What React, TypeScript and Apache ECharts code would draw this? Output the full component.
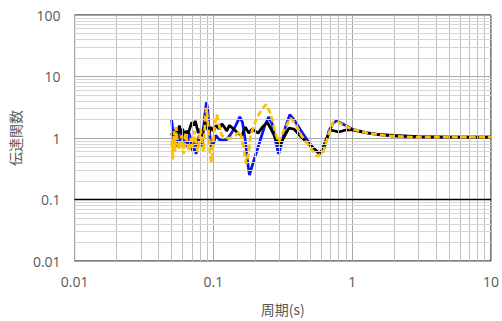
import React, { useEffect, useRef } from "react";
import * as echarts from "echarts";

// Period (s) and transfer function values
const blackSeries: [number, number][] = [
  [0.05, 1.2], [0.051, 1.0], [0.052, 1.3], [0.053, 1.1], [0.054, 1.5], [0.055, 1.0],
  [0.056, 1.3], [0.057, 1.6], [0.058, 1.2], [0.06, 1.4], [0.062, 1.1], [0.064, 1.3],
  [0.066, 1.2], [0.068, 1.5], [0.07, 1.8], [0.072, 1.6], [0.074, 1.9], [0.076, 1.5],
  [0.078, 1.2], [0.08, 1.4], [0.082, 1.1], [0.084, 1.3], [0.086, 1.6], [0.088, 1.9],
  [0.09, 1.5], [0.093, 1.2], [0.096, 1.5], [0.1, 1.3], [0.105, 1.6], [0.11, 1.4],
  [0.115, 1.7], [0.12, 1.5], [0.125, 1.3], [0.13, 1.6], [0.14, 1.4], [0.15, 1.2],
  [0.16, 1.1], [0.17, 1.5], [0.18, 1.2], [0.19, 1.4], [0.2, 1.3], [0.21, 1.2],
  [0.225, 1.5], [0.245, 1.8], [0.26, 1.4], [0.28, 1.0], [0.3, 0.75], [0.32, 1.0],
  [0.35, 1.45], [0.38, 1.4], [0.42, 1.1], [0.47, 0.85], [0.52, 0.7], [0.57, 0.58],
  [0.6, 0.6], [0.65, 0.95], [0.7, 1.35], [0.75, 1.3], [0.8, 1.25], [0.9, 1.35],
  [1.0, 1.35], [1.2, 1.25], [1.5, 1.15], [2.0, 1.1], [3.0, 1.05], [5.0, 1.03], [10, 1.03],
];

const blueSeries: [number, number][] = [
  [0.05, 2.0], [0.051, 1.3], [0.052, 0.8], [0.053, 1.0], [0.054, 0.7], [0.055, 1.1],
  [0.057, 0.9], [0.059, 1.3], [0.061, 0.8], [0.063, 1.0], [0.065, 0.7], [0.067, 1.2],
  [0.069, 0.9], [0.071, 0.6], [0.073, 0.9], [0.075, 0.55], [0.077, 0.8], [0.079, 1.1],
  [0.081, 0.9], [0.083, 0.7], [0.085, 1.5], [0.087, 2.5], [0.089, 3.8], [0.091, 3.0],
  [0.093, 1.5], [0.095, 0.9], [0.097, 0.65], [0.1, 0.8], [0.104, 1.1], [0.11, 0.95],
  [0.118, 0.9], [0.125, 0.95], [0.135, 1.2], [0.145, 1.6], [0.155, 2.2], [0.162, 1.8],
  [0.17, 0.9], [0.178, 0.35], [0.182, 0.25], [0.19, 0.35], [0.205, 0.6], [0.22, 1.0],
  [0.235, 1.6], [0.25, 2.2], [0.265, 1.7], [0.28, 0.9], [0.295, 0.55], [0.31, 0.8],
  [0.33, 1.5], [0.355, 2.4], [0.38, 2.0], [0.42, 1.4], [0.47, 0.95], [0.52, 0.7],
  [0.58, 0.55], [0.63, 0.7], [0.68, 1.3], [0.73, 1.75], [0.77, 1.9], [0.85, 1.7],
  [1.0, 1.4], [1.3, 1.2], [1.7, 1.1], [2.3, 1.05], [3.0, 1.03], [10, 1.03],
];

const orangeSeries: [number, number][] = [
  [0.05, 0.9], [0.051, 0.45], [0.052, 1.3], [0.053, 0.6], [0.054, 1.5], [0.055, 0.9],
  [0.057, 0.65], [0.059, 1.1], [0.061, 0.55], [0.063, 1.2], [0.065, 0.8], [0.067, 0.6],
  [0.069, 1.0], [0.071, 0.7], [0.073, 1.3], [0.075, 0.8], [0.077, 0.6], [0.079, 0.9],
  [0.081, 1.4], [0.083, 0.8], [0.085, 0.6], [0.087, 1.8], [0.089, 3.1], [0.091, 2.0],
  [0.093, 1.0], [0.095, 0.5], [0.097, 0.4], [0.099, 0.7], [0.102, 1.6], [0.106, 2.4],
  [0.11, 1.6], [0.115, 1.1], [0.125, 1.0], [0.135, 1.0], [0.145, 1.1], [0.155, 1.3],
  [0.165, 0.7], [0.172, 0.38], [0.18, 0.6], [0.185, 1.1], [0.205, 2.1], [0.225, 3.0],
  [0.24, 3.5], [0.26, 2.4], [0.28, 1.2], [0.295, 0.85], [0.32, 1.3], [0.36, 2.1],
  [0.39, 1.7], [0.43, 1.1], [0.5, 0.7], [0.56, 0.5], [0.62, 0.6], [0.68, 1.2],
  [0.73, 1.8], [0.78, 1.85], [0.87, 1.6], [1.0, 1.4], [1.3, 1.2], [1.7, 1.1],
  [2.3, 1.05], [3.0, 1.03], [10, 1.03],
];

const xMinorGrid = [
  0.02, 0.03, 0.04, 0.05, 0.06, 0.07, 0.08, 0.09,
  0.2, 0.3, 0.4, 0.5, 0.6, 0.7, 0.8, 0.9,
  2, 3, 4, 5, 6, 7, 8, 9,
];
const yMinorGrid = [
  0.02, 0.03, 0.04, 0.05, 0.06, 0.07, 0.08, 0.09,
  0.2, 0.3, 0.4, 0.5, 0.6, 0.7, 0.8, 0.9,
  2, 3, 4, 5, 6, 7, 8, 9,
  20, 30, 40, 50, 60, 70, 80, 90,
];
const xAxisLineValue = 0.1;

const fmt = (v: number) => String(Number(v.toPrecision(2)));

export default function App() {
  const ref = useRef<HTMLDivElement>(null);
  useEffect(() => {
    if (!ref.current) return;
    const chart = echarts.init(ref.current, undefined, { renderer: "svg" });
    const font = "'Noto Sans CJK JP', 'Noto Sans', sans-serif";
    const labelFont = "'Open Sans', 'Noto Sans', sans-serif";
    chart.setOption({
      animation: false,
      grid: {
        left: 64, right: 11, top: 15, bottom: 58,
        show: true, borderColor: "#000", borderWidth: 1,
      },
      xAxis: {
        type: "log", logBase: 10, min: 0.01, max: 10,
        name: "周期(s)", nameLocation: "middle", nameGap: 41,
        nameTextStyle: { color: "#595959", fontSize: 14, fontFamily: font },
        axisLine: { show: false },
        axisTick: { show: false },
        axisLabel: { color: "#595959", fontSize: 14, fontFamily: labelFont, margin: 13, formatter: fmt },
        splitLine: { show: true, lineStyle: { color: "#a6a6a6", width: 1 } },
      },
      yAxis: {
        type: "log", logBase: 10, min: 0.01, max: 100,
        name: "伝達関数", nameLocation: "middle", nameGap: 40, nameRotate: 90,
        nameTextStyle: { color: "#595959", fontSize: 14, fontFamily: font },
        axisLine: { show: false },
        axisTick: { show: false },
        axisLabel: { color: "#595959", fontSize: 14, fontFamily: labelFont, margin: 14, formatter: fmt },
        splitLine: { show: true, lineStyle: { color: "#a6a6a6", width: 1 } },
      },
      series: [
        {
          type: "line", data: [], silent: true, z: 1,
          markLine: {
            silent: true, symbol: "none", animation: false,
            label: { show: false },
            data: [
              ...xMinorGrid.map((v) => ({ xAxis: v, lineStyle: { color: "#c0c0c0", width: 1, type: "solid" } })),
              ...yMinorGrid.map((v) => ({ yAxis: v, lineStyle: { color: "#d6d6d6", width: 1, type: "solid" } })),
              { yAxis: xAxisLineValue, lineStyle: { color: "#000", width: 1.3, type: "solid" } },
            ],
          },
        },
        {
          type: "line", data: blueSeries, showSymbol: false, z: 3,
          lineStyle: { color: "#0a16f0", width: 2.75 },
        },
        {
          type: "line", data: blackSeries, showSymbol: false, z: 4,
          lineStyle: { color: "#000000", width: 2.75 },
        },
        {
          type: "line", data: orangeSeries, showSymbol: false, z: 5,
          lineStyle: { color: "#ffc000", width: 2.75, type: [6, 3] },
        },
      ],
    });
    return () => chart.dispose();
  }, []);
  return (
    <div
      ref={ref}
      style={{ position: "absolute", left: 0, top: 0, width: 502, height: 321, background: "#fff" }}
    />
  );
}
